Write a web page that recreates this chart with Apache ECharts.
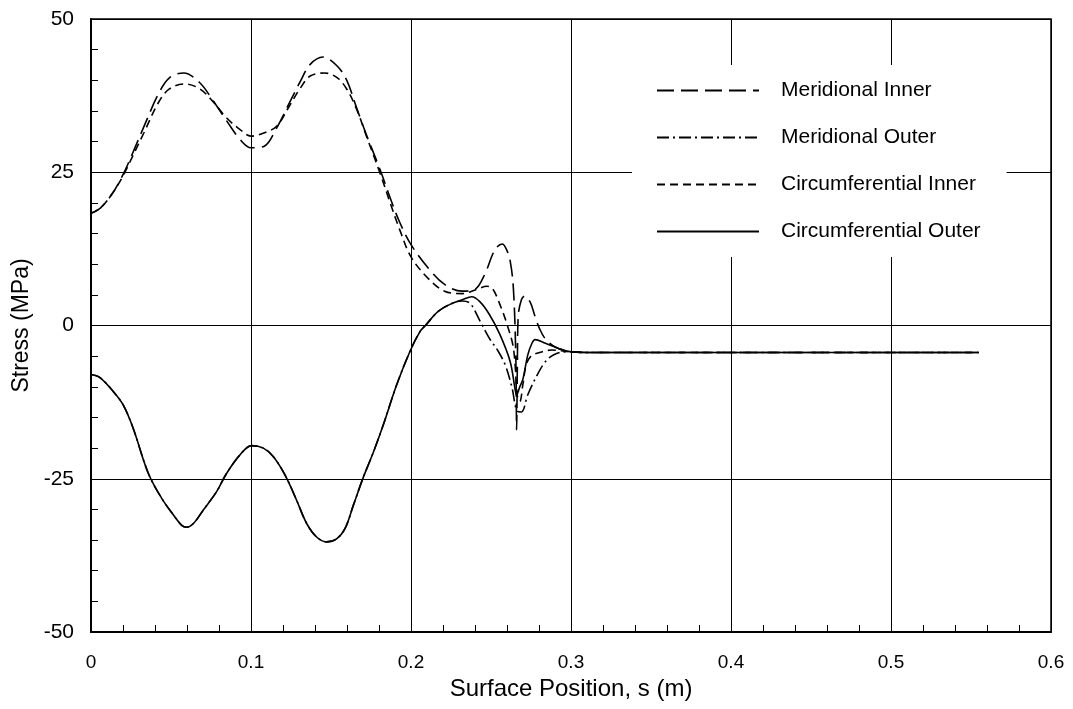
<!DOCTYPE html>
<html>
<head>
<meta charset="utf-8">
<script src="https://cdn.jsdelivr.net/npm/echarts@6/dist/echarts.min.js"></script>
<style>html,body{margin:0;padding:0;background:#fff}#c{width:1073px;height:709px}</style>
</head>
<body>
<div id="c"></div>
<script>
const seriesNames = ['Meridional Inner', 'Meridional Outer', 'Circumferential Inner', 'Circumferential Outer'];
const xTickLabels = ['0', '0.1', '0.2', '0.3', '0.4', '0.5', '0.6'];
const yTickLabels = ['-50', '-25', '0', '25', '50'];
const xAxisTitle = 'Surface Position, s (m)';
const yAxisTitle = 'Stress (MPa)';

// [s (m), stress (MPa)]
const meridionalInner = [
  [0,18.3],[0.006,19.2],[0.013,21.4],[0.02,24.6],[0.026,28.1],[0.033,32.4],[0.042,37.7],[0.049,40.4],
  [0.058,41.2],[0.068,39.6],[0.076,36.8],[0.085,33.3],[0.093,30.4],[0.1,29.0],[0.108,29.2],[0.116,32.2],
  [0.124,36.3],[0.131,39.9],[0.137,42.6],[0.145,43.8],[0.154,42.3],[0.16,39.9],[0.166,35.5],[0.172,31.2],
  [0.181,25.2],[0.187,20.8],[0.193,16.8],[0.2,13.2],[0.211,9.3],[0.221,6.7],[0.232,5.6],[0.24,5.9],
  [0.246,8.3],[0.2525,12.4],[0.257,13.3],[0.2595,12.5],[0.262,10.5],[0.264,6],[0.2655,-5],[0.266,-17],
  [0.2665,-6],[0.267,1.5],[0.269,4.2],[0.271,4.8],[0.2745,3.8],[0.2775,1.5],[0.2805,-0.6],[0.284,-2.2],
  [0.29,-3.5],[0.298,-4.2],[0.31,-4.4],[0.555,-4.4]
];
const meridionalOuter = [
  [0,-8.0],[0.0056,-8.5],[0.014,-10.8],[0.0202,-13.0],[0.0264,-16.8],[0.0358,-24.1],[0.0442,-28.2],
  [0.0515,-30.9],[0.0567,-32.6],[0.0598,-32.9],[0.064,-32.3],[0.0702,-30.1],[0.0785,-27.1],[0.0848,-24.1],
  [0.0931,-21.1],[0.1004,-19.6],[0.1077,-20.0],[0.114,-21.4],[0.1213,-24.4],[0.1285,-28.5],[0.1348,-32.3],
  [0.141,-34.5],[0.1473,-35.3],[0.1535,-34.8],[0.1588,-33.1],[0.164,-29.3],[0.17,-24.9],[0.1766,-20.6],
  [0.1827,-16.2],[0.191,-9.7],[0.1994,-4.2],[0.2056,-1.0],[0.209,0],[0.217,2.3],[0.2256,3.6],[0.232,4.0],
  [0.237,3.6],[0.243,0.8],[0.249,-2.1],[0.2545,-4.2],[0.259,-6.5],[0.263,-10.0],[0.2665,-14.0],[0.269,-14.1],
  [0.273,-11.3],[0.279,-8.0],[0.284,-5.9],[0.289,-4.8],[0.296,-4.3],[0.31,-4.4],[0.555,-4.4]
];
const circumferentialInner = [
  [0,18.3],[0.006,19.2],[0.013,21.4],[0.02,24.4],[0.026,27.6],[0.033,31.4],[0.042,36.3],[0.049,38.6],
  [0.059,39.4],[0.068,38.6],[0.076,36.6],[0.085,33.8],[0.093,32.0],[0.1,30.9],[0.108,31.4],[0.116,32.5],
  [0.124,35.8],[0.131,38.8],[0.137,40.7],[0.146,41.2],[0.154,40.4],[0.16,38.5],[0.166,35.3],[0.172,31.0],
  [0.181,24.6],[0.187,20.0],[0.193,15.6],[0.2,11.2],[0.211,7.6],[0.221,5.6],[0.232,5.2],[0.241,5.9],
  [0.2475,6.4],[0.251,6.0],[0.2556,3.4],[0.26,0.2],[0.264,-3.7],[0.2665,-11.5],[0.268,-12.4],[0.27,-9.5],
  [0.272,-6.4],[0.275,-5.0],[0.279,-4.5],[0.288,-4.0],[0.3,-4.3],[0.31,-4.4],[0.555,-4.4]
];
const circumferentialOuter = [
  [0,-8.0],[0.0056,-8.5],[0.014,-10.8],[0.0202,-13.0],[0.0264,-16.8],[0.0358,-24.1],[0.0442,-28.2],
  [0.0515,-30.9],[0.0567,-32.6],[0.0598,-32.9],[0.064,-32.3],[0.0702,-30.1],[0.0785,-27.1],[0.0848,-24.1],
  [0.0931,-21.1],[0.1004,-19.6],[0.1077,-20.0],[0.114,-21.4],[0.1213,-24.4],[0.1285,-28.5],[0.1348,-32.3],
  [0.141,-34.5],[0.1473,-35.3],[0.1535,-34.8],[0.1588,-33.1],[0.164,-29.3],[0.17,-24.9],[0.1766,-20.6],
  [0.1827,-16.2],[0.191,-9.7],[0.1994,-4.2],[0.2056,-1.0],[0.209,0],[0.217,2.3],[0.2256,3.6],[0.232,4.2],
  [0.238,4.7],[0.243,3.9],[0.249,1.8],[0.2556,-1.5],[0.262,-5.9],[0.265,-10.3],[0.266,-11.3],[0.268,-10.0],
  [0.27,-8.7],[0.273,-4.8],[0.2756,-2.9],[0.2775,-2.3],[0.284,-2.9],[0.292,-3.7],[0.298,-4.2],[0.31,-4.4],[0.555,-4.4]
];

const seriesData = [meridionalInner, meridionalOuter, circumferentialInner, circumferentialOuter];
const dashTypes = [[17, 7], [12, 4, 2, 4], [8, 5], 'solid'];
const FONT = 'Liberation Sans, Arial, Helvetica, sans-serif';

const chart = echarts.init(document.getElementById('c'), null, {renderer: 'canvas'});
chart.setOption({
  animation: false,
  backgroundColor: '#fff',
  grid: {left: 91, right: 22, top: 19, bottom: 77, show: true, borderColor: '#000', borderWidth: 1.5, containLabel: false},
  legend: {
    orient: 'vertical', left: 632, top: 65,
    backgroundColor: '#fff',
    padding: [15, 26, 15, 24],
    itemWidth: 102, itemHeight: 14, itemGap: 26,
    itemStyle: {opacity: 0},
    textStyle: {fontSize: 21, color: '#000', fontFamily: FONT, padding: [0, 0, 0, 17]},
    data: seriesNames
  },
  xAxis: {
    type: 'value', min: 0, max: 0.6, interval: 0.1,
    name: xAxisTitle, nameLocation: 'middle', nameGap: 42,
    nameTextStyle: {fontSize: 24, color: '#000', fontFamily: FONT},
    axisLine: {show: true, onZero: false, lineStyle: {color: '#000', width: 2}},
    axisTick: {show: true, inside: true, length: 8, lineStyle: {color: '#000', width: 1}},
    minorTick: {show: true, splitNumber: 5, length: 7, lineStyle: {color: '#000', width: 1}},
    splitLine: {show: true, lineStyle: {color: '#000', width: 1}},
    axisLabel: {margin: 21, fontSize: 19, color: '#000', fontFamily: FONT,
      formatter: v => xTickLabels[Math.round(v / 0.1)]}
  },
  yAxis: {
    type: 'value', min: -50, max: 50, interval: 25,
    name: yAxisTitle, nameLocation: 'middle', nameGap: 56, nameRotate: 90,
    nameTextStyle: {fontSize: 23, color: '#000', fontFamily: FONT},
    axisLine: {show: true, onZero: false, lineStyle: {color: '#000', width: 2}},
    axisTick: {show: true, inside: true, length: 8, lineStyle: {color: '#000', width: 1}},
    minorTick: {show: true, splitNumber: 5, length: 7, lineStyle: {color: '#000', width: 1}},
    splitLine: {show: true, lineStyle: {color: '#000', width: 1}},
    axisLabel: {margin: 17, fontSize: 21, color: '#000', fontFamily: FONT,
      formatter: v => yTickLabels[Math.round((v + 50) / 25)]}
  },
  series: seriesNames.map((n, i) => ({
    name: n, type: 'line', data: seriesData[i],
    symbol: 'none', showSymbol: false,
    smooth: 0.35,
    lineStyle: {color: '#000', width: 1.6, type: dashTypes[i]},
    itemStyle: {color: '#000'},
    z: 3
  }))
});
</script>
</body>
</html>
